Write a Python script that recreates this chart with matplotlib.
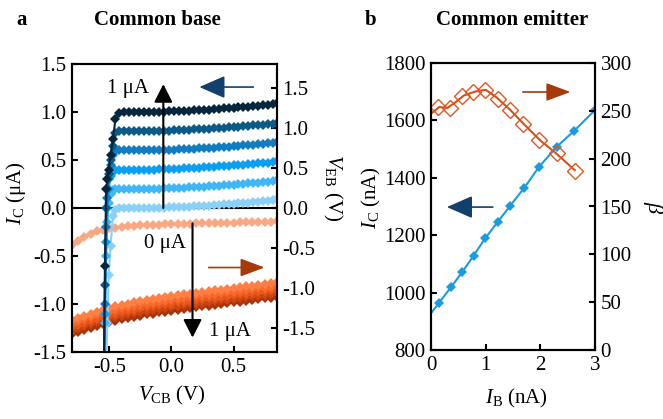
import matplotlib
matplotlib.use("Agg")
import matplotlib.pyplot as plt

plt.rcParams['font.family'] = ['Liberation Serif', 'DejaVu Serif']
plt.rcParams['mathtext.fontset'] = 'custom'
plt.rcParams['mathtext.rm'] = 'Liberation Serif'
plt.rcParams['mathtext.it'] = 'Liberation Serif:italic'
plt.rcParams['mathtext.bf'] = 'Liberation Serif:bold'
plt.rcParams['axes.unicode_minus'] = False
plt.rcParams['font.size'] = 15

FS = 15

# ---------------- Panel a: common base ----------------
vcb_blue = [-0.545, -0.535, -0.525, -0.515, -0.505, -0.49, -0.47, -0.45,
            -0.42, -0.38, -0.34, -0.30, -0.26, -0.22, -0.18, -0.14, -0.10, -0.06,
            -0.02, 0.02, 0.06, 0.10, 0.14, 0.18, 0.22, 0.26, 0.30, 0.34, 0.38,
            0.42, 0.46, 0.50, 0.54, 0.58, 0.62, 0.66, 0.70, 0.74, 0.78, 0.82, 0.85]

ic_1p0 = [-1.9, -0.6, 0.2, 0.3, 0.4, 0.55, 0.72, 0.93,
          0.99, 1.0, 1.0, 1.0, 1.0, 1.0, 1.0, 1.0, 1.002, 1.004, 1.006, 1.008, 1.01,
          1.012, 1.015, 1.018, 1.02, 1.023, 1.026, 1.03, 1.033, 1.037, 1.04, 1.044,
          1.048, 1.052, 1.056, 1.06, 1.064, 1.068, 1.073, 1.08, 1.09]
ic_0p8 = [-1.9, -0.8, 0.0, 0.2, 0.35, 0.5, 0.65, 0.78,
          0.8, 0.8, 0.8, 0.8, 0.8, 0.8, 0.8, 0.8, 0.802, 0.804, 0.806, 0.808, 0.81,
          0.812, 0.815, 0.818, 0.82, 0.823, 0.826, 0.83, 0.833, 0.837, 0.84, 0.844,
          0.848, 0.852, 0.856, 0.86, 0.864, 0.868, 0.873, 0.88, 0.89]
ic_0p6 = [-1.9, -1.0, -0.2, 0.1, 0.3, 0.45, 0.55, 0.59,
          0.6, 0.6, 0.6, 0.6, 0.6, 0.6, 0.6, 0.6, 0.602, 0.604, 0.606, 0.608, 0.61,
          0.612, 0.615, 0.618, 0.62, 0.623, 0.626, 0.63, 0.633, 0.637, 0.64, 0.644,
          0.648, 0.652, 0.656, 0.66, 0.664, 0.668, 0.673, 0.68, 0.69]
ic_0p4 = [-1.9, -1.1, -0.35, 0.0, 0.2, 0.33, 0.38, 0.4,
          0.4, 0.4, 0.4, 0.4, 0.4, 0.4, 0.4, 0.4, 0.402, 0.404, 0.406, 0.408, 0.41,
          0.412, 0.415, 0.418, 0.42, 0.423, 0.426, 0.43, 0.433, 0.437, 0.44, 0.444,
          0.448, 0.452, 0.456, 0.46, 0.464, 0.468, 0.473, 0.48, 0.49]
ic_0p2 = [-1.9, -1.2, -0.5, -0.15, 0.05, 0.15, 0.19, 0.2,
          0.2, 0.2, 0.2, 0.2, 0.2, 0.2, 0.2, 0.2, 0.202, 0.204, 0.206, 0.208, 0.21,
          0.212, 0.215, 0.218, 0.22, 0.223, 0.226, 0.23, 0.233, 0.237, 0.24, 0.244,
          0.248, 0.252, 0.256, 0.26, 0.264, 0.268, 0.273, 0.28, 0.29]
ic_0p0 = [-2.2, -1.9, -1.6, -1.2, -0.7, -0.4, -0.08, -0.02,
          0.0, 0.0, 0.0, 0.0, 0.0, 0.0, 0.0, 0.0, 0.002, 0.004, 0.006, 0.008, 0.01,
          0.012, 0.015, 0.018, 0.02, 0.023, 0.026, 0.03, 0.033, 0.037, 0.04, 0.044,
          0.048, 0.052, 0.056, 0.06, 0.064, 0.068, 0.073, 0.08, 0.09]
blue_curves = [ic_0p0, ic_0p2, ic_0p4, ic_0p6, ic_0p8, ic_1p0]
blue_colors = ['#8ad1f7', '#3fb6f5', '#0a9ff0', '#0f7dbf', '#0b5a88', '#06263d']

vcb_orange = [-0.80, -0.75, -0.70, -0.65, -0.60, -0.55, -0.50, -0.45, -0.40, -0.35,
              -0.30, -0.25, -0.20, -0.15, -0.10, -0.05, 0.00, 0.05, 0.10, 0.15,
              0.20, 0.25, 0.30, 0.35, 0.40, 0.45, 0.50, 0.55, 0.60, 0.65, 0.70,
              0.75, 0.80, 0.85]
veb_0 = [-0.46, -0.41, -0.36, -0.32, -0.29, -0.27, -0.255, -0.245, -0.235, -0.228,
         -0.222, -0.217, -0.213, -0.21, -0.207, -0.204, -0.201, -0.199, -0.197, -0.195,
         -0.193, -0.191, -0.19, -0.188, -0.186, -0.184, -0.182, -0.18, -0.178, -0.176,
         -0.174, -0.172, -0.17, -0.168]
veb_1 = [-1.40, -1.37, -1.345, -1.32, -1.295, -1.27, -1.25, -1.23, -1.21, -1.195,
         -1.18, -1.165, -1.15, -1.14, -1.125, -1.115, -1.105, -1.09, -1.08, -1.07,
         -1.06, -1.05, -1.04, -1.03, -1.02, -1.01, -1.0, -0.99, -0.98, -0.97,
         -0.96, -0.95, -0.94, -0.93]
veb_2 = [-1.445, -1.415, -1.39, -1.365, -1.34, -1.315, -1.295, -1.275, -1.255, -1.24,
         -1.225, -1.21, -1.195, -1.185, -1.17, -1.16, -1.15, -1.135, -1.125, -1.115,
         -1.105, -1.095, -1.085, -1.075, -1.065, -1.055, -1.045, -1.035, -1.025, -1.015,
         -1.005, -0.995, -0.985, -0.975]
veb_3 = [-1.49, -1.46, -1.435, -1.41, -1.385, -1.36, -1.34, -1.32, -1.30, -1.285,
         -1.27, -1.255, -1.24, -1.23, -1.215, -1.205, -1.195, -1.18, -1.17, -1.16,
         -1.15, -1.14, -1.13, -1.12, -1.11, -1.10, -1.09, -1.08, -1.07, -1.06,
         -1.05, -1.04, -1.03, -1.02]
veb_4 = [-1.535, -1.505, -1.48, -1.455, -1.43, -1.405, -1.385, -1.365, -1.345, -1.33,
         -1.315, -1.30, -1.285, -1.275, -1.26, -1.25, -1.24, -1.225, -1.215, -1.205,
         -1.195, -1.185, -1.175, -1.165, -1.155, -1.145, -1.135, -1.125, -1.115, -1.105,
         -1.095, -1.085, -1.075, -1.065]
veb_5 = [-1.58, -1.55, -1.525, -1.50, -1.475, -1.45, -1.43, -1.41, -1.39, -1.375,
         -1.36, -1.345, -1.33, -1.32, -1.305, -1.295, -1.285, -1.27, -1.26, -1.25,
         -1.24, -1.23, -1.22, -1.21, -1.20, -1.19, -1.18, -1.17, -1.16, -1.15,
         -1.14, -1.13, -1.12, -1.11]
orange_curves = [veb_5, veb_4, veb_3, veb_2, veb_1, veb_0]
orange_colors = ['#a8340a', '#cc4412', '#e8561c', '#f86a2c', '#ff7f45', '#f8a882']

# ---------------- Panel b: common emitter ----------------
ib_ic = [0.0, 0.15, 0.37, 0.57, 0.78, 0.99, 1.22, 1.45, 1.71, 1.98, 2.30, 2.62, 3.0]
ic_nA = [928, 965, 1020, 1071, 1129, 1189, 1246, 1303, 1366, 1439, 1508, 1564, 1636]

ib_beta = [0.13, 0.34, 0.56, 0.77, 0.99, 1.23, 1.45, 1.69, 1.98, 2.30, 2.63]
beta = [254, 253, 266, 270, 272, 262, 251, 236, 219, 206, 187]
ib_beta_fit = [0.0, 0.15, 0.3, 0.45, 0.6, 0.8, 1.0, 1.2, 1.45, 1.7, 2.0, 2.3, 2.63]
beta_fit = [247, 254, 253, 259, 266, 270, 272, 264, 251, 236, 219, 205, 188]

W, H = 663, 419
fig = plt.figure(figsize=(W / 100, H / 100), dpi=100)


def style(ax):
    for s in ax.spines.values():
        s.set_linewidth(1.5)
    ax.tick_params(direction='in', length=4, width=1.5, labelsize=FS, pad=4)


# Panel a
axa = fig.add_axes([72 / W, 1 - 352 / H, 205 / W, 288 / H])
axa2 = axa.twinx()
axa.set_zorder(axa2.get_zorder() + 1)
axa.patch.set_visible(False)

for ys, c in zip(orange_curves, orange_colors):
    axa2.plot(vcb_orange, ys, '-D', color=c, ms=5.2, lw=1.5, mew=0)
for ys, c in zip(blue_curves, blue_colors):
    axa.plot(vcb_blue, ys, '-D', color=c, ms=5.4, lw=1.5, mew=0)
axa.axhline(0, color='black', lw=1.5, zorder=1)

axa.set_xlim(-0.8, 0.85)
axa.set_ylim(-1.5, 1.5)
axa2.set_ylim(-1.8, 1.8)
axa.set_xticks([-0.5, 0.0, 0.5])
axa.set_xticklabels(['-0.5', '0.0', '0.5'])
axa.set_yticks([-1.5, -1.0, -0.5, 0.0, 0.5, 1.0, 1.5])
axa.set_yticklabels(['-1.5', '-1.0', '-0.5', '0.0', '0.5', '1.0', '1.5'])
axa2.set_yticks([-1.5, -1.0, -0.5, 0.0, 0.5, 1.0, 1.5])
axa2.set_yticklabels(['-1.5', '-1.0', '-0.5', '0.0', '0.5', '1.0', '1.5'])
style(axa)
style(axa2)

axa.set_xlabel(r'$V_\mathrm{CB}$ (V)', fontsize=FS)
axa.xaxis.set_label_coords(0.49, -0.112)
axa.set_ylabel(r'$I_\mathrm{C}$ (μA)', fontsize=FS)
axa.yaxis.set_label_coords(-0.215, 0.55)
axa2.set_ylabel(r'$V_\mathrm{EB}$ (V)', fontsize=FS, rotation=270, va='center')
axa2.yaxis.set_label_coords(1.27, 0.57)

blk = dict(arrowstyle='-|>,head_width=0.28,head_length=0.55', color='black',
           lw=1.5, shrinkA=0, shrinkB=0, mutation_scale=20)
axa.annotate('', xy=(-0.065, 1.29), xytext=(-0.065, 0.0), arrowprops=blk)
axa.annotate('', xy=(0.17, -1.35), xytext=(0.17, -0.16), arrowprops=blk)
axa.text(-0.35, 1.24, '1 μA', ha='center', va='center', fontsize=FS)
axa.text(-0.055, -0.37, '0 μA', ha='center', va='center', fontsize=FS)
axa.text(0.475, -1.29, '1 μA', ha='center', va='center', fontsize=FS)

navy = dict(arrowstyle='-|>,head_width=0.35,head_length=0.8', color='#123f6c',
            lw=1.2, shrinkA=0, shrinkB=0, mutation_scale=20)
orng = dict(arrowstyle='-|>,head_width=0.28,head_length=0.75', color='#a53a0a',
            lw=1.2, shrinkA=0, shrinkB=0, mutation_scale=20)
axa.annotate('', xy=(0.225, 1.26), xytext=(0.66, 1.26), arrowprops=navy)
axa.annotate('', xy=(0.75, -0.62), xytext=(0.30, -0.62), arrowprops=orng)

# Panel b
axb = fig.add_axes([431 / W, 1 - 350 / H, 164 / W, 287 / H])
axb2 = axb.twinx()
axb.plot(ib_ic, ic_nA, '-', color='#1a9ce0', lw=1.5)
axb.plot(ib_ic[1:], ic_nA[1:], 'D', color='#1a9ce0', ms=5.5, mew=0)
axb2.plot(ib_beta_fit, beta_fit, '-', color='#d2501a', lw=1.5)
axb2.plot(ib_beta, beta, 'D', mfc='none', mec='#e0571e', ms=8.5, mew=1.0)

axb.set_xlim(0, 3)
axb.set_ylim(800, 1800)
axb2.set_ylim(0, 300)
axb.set_xticks([0, 1, 2, 3])
axb.set_yticks([800, 1000, 1200, 1400, 1600, 1800])
axb2.set_yticks([0, 50, 100, 150, 200, 250, 300])
style(axb)
style(axb2)
axb.set_xlabel(r'$I_\mathrm{B}$ (nA)', fontsize=FS)
axb.xaxis.set_label_coords(0.52, -0.128)
axb.set_ylabel(r'$I_\mathrm{C}$ (nA)', fontsize=FS)
axb.yaxis.set_label_coords(-0.295, 0.53)
axb2.set_ylabel('β', fontsize=16, fontstyle='italic', rotation=270,
                ha='center', va='center')
axb2.yaxis.set_label_coords(1.355, 0.5)

axb.annotate('', xy=(0.29, 1298), xytext=(1.13, 1298), arrowprops=navy)
axb.annotate('', xy=(2.55, 1699), xytext=(1.68, 1699), arrowprops=orng)

fig.text(22 / W, 1 - 20 / H, 'a', fontsize=FS, fontweight='bold', ha='center', va='center')
fig.text(157 / W, 1 - 20 / H, 'Common base', fontsize=FS, fontweight='bold', ha='center', va='center')
fig.text(371 / W, 1 - 20 / H, 'b', fontsize=FS, fontweight='bold', ha='center', va='center')
fig.text(512 / W, 1 - 20 / H, 'Common emitter', fontsize=FS, fontweight='bold', ha='center', va='center')

fig.savefig('out.png', dpi=100)
